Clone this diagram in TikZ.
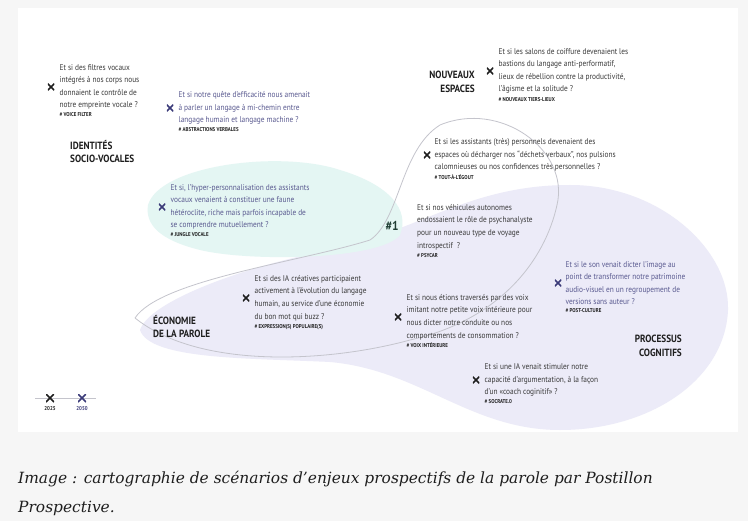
\documentclass[tikz,border=0pt]{standalone}
\usepackage{fontspec}
\setmainfont{PT Sans}
\newfontfamily\condfont{PT Sans}[FakeStretch=0.88]
\newfontfamily\capfont{DejaVu Serif}
\usepackage{xcolor}
\usetikzlibrary{positioning}

\definecolor{pagebg}{HTML}{F6F6F6}
\definecolor{ink}{HTML}{3A3A3A}
\definecolor{inkdark}{HTML}{1E1E1E}
\definecolor{vio}{HTML}{5A5A90}
\definecolor{viodark}{HTML}{3A3A78}
\definecolor{lav}{HTML}{ECEBF8}
\definecolor{mint}{HTML}{E4F6F3}
\definecolor{mintline}{HTML}{BDEBE3}
\definecolor{loopgray}{HTML}{C4C4CC}
\definecolor{teal}{HTML}{1F3D33}

\begin{document}
\begin{tikzpicture}[
  x=1bp, y=-1bp,
  q/.style={anchor=west, align=left, inner sep=0pt, text=ink,
    font=\condfont\fontsize{8.4}{12.6}\selectfont},
  qv/.style={q, text=vio},
  tagtxt/.style={anchor=north west, inner sep=0pt, text=inkdark,
    font=\condfont\bfseries\fontsize{5.6}{7}\selectfont},
  crossmk/.style={minimum size=6.5bp, inner sep=0pt,
    path picture={\draw[inkdark, line width=1.5pt]
      (path picture bounding box.south west) -- (path picture bounding box.north east)
      (path picture bounding box.north west) -- (path picture bounding box.south east);}},
  crossv/.style={minimum size=6.5bp, inner sep=0pt,
    path picture={\draw[viodark, line width=1.5pt]
      (path picture bounding box.south west) -- (path picture bounding box.north east)
      (path picture bounding box.north west) -- (path picture bounding box.south east);}},
  theme/.style={inner sep=0pt, text=inkdark,
    font=\condfont\bfseries\fontsize{10.5}{13.5}\selectfont},
  legtxt/.style={inner sep=0pt, font=\condfont\bfseries\fontsize{5.6}{7}\selectfont},
  loopline/.style={draw=loopgray, line width=0.8pt}
]
\useasboundingbox (0,0) rectangle (748,521);
\fill[pagebg] (0,0) rectangle (748,521);
\fill[white] (18,8) rectangle (738,432);

% zones
\fill[lav] (140,330) .. controls (150,300) and (250,265) .. (330,250)
  .. controls (420,230) and (470,185) .. (570,185)
  .. controls (660,185) and (730,250) .. (728,310)
  .. controls (725,380) and (650,430) .. (560,430)
  .. controls (470,430) and (420,370) .. (330,362)
  .. controls (250,358) and (150,360) .. (140,330) -- cycle;
\fill[mint] (148,205) .. controls (160,165) and (280,150) .. (340,170)
  .. controls (390,185) and (410,210) .. (400,235)
  .. controls (380,260) and (250,262) .. (200,250)
  .. controls (160,240) and (145,225) .. (148,205) -- cycle;
\draw[loopline] (135,318) .. controls (160,280) and (300,262) .. (370,240)
  .. controls (400,220) and (400,150) .. (440,125)
  .. controls (500,100) and (570,150) .. (557,205)
  .. controls (545,260) and (500,320) .. (410,340)
  .. controls (330,362) and (200,370) .. (135,318);

% themes
\node[theme, anchor=north west, align=left] (idsv) at (70,140) {IDENTITÉS\\SOCIO-VOCALES};
\node[theme, anchor=north east, align=right] (nesp) at (475,71) {NOUVEAUX\\ESPACES};
\node[theme, anchor=north west, align=left] (ecop) at (153,315) {ÉCONOMIE\\DE LA PAROLE};
\node[theme, anchor=north east, align=right] (pcog) at (682,335) {PROCESSUS\\COGNITIFS};

% 2025 / 2050 scenarios
\node[crossmk] (m1) at (51,87) {};
\node[q, right=5pt of m1] (s1) {Et si des filtres vocaux\\intégrés à nos corps nous\\donnaient le contrôle de\\notre empreinte vocale ?};
\node[below=3pt of s1.south west, tagtxt] (t1) {\# VOICE FILTER};

\node[crossv] (m2) at (170,108) {};
\node[qv, right=5pt of m2] (s2) {Et si notre quête d’efficacité nous amenait\\à parler un langage à mi-chemin entre\\langage humain et langage machine ?};
\node[below=3pt of s2.south west, tagtxt] (t2) {\# ABSTRACTIONS VERBALES};

\node[crossmk] (m3) at (490,71) {};
\node[q, right=5pt of m3] (s3) {Et si les salons de coiffure devenaient les\\bastions du langage anti-performatif,\\lieux de rébellion contre la productivité,\\l’âgisme et la solitude ?};
\node[below=3pt of s3.south west, tagtxt] (t3) {\# NOUVEAUX TIERS-LIEUX};

\node[crossmk] (m4) at (427,155) {};
\node[q, right=4pt of m4] (s4) {Et si les assistants (très) personnels devenaient des\\espaces où décharger nos “déchets verbaux”, nos pulsions\\calomnieuses ou nos confidences très personnelles ?};
\node[below=3pt of s4.south west, tagtxt] (t4) {\# TOUT-À-L’ÉGOUT};

\node[crossv] (m5) at (162,207) {};
\node[qv, right=5pt of m5] (s5) {Et si, l’hyper-personnalisation des assistants\\vocaux venaient à constituer une faune\\hétéroclite, riche mais parfois incapable de\\se comprendre mutuellement ?};
\node[below=3pt of s5.south west, tagtxt] (t5) {\# JUNGLE VOCALE};

\node[inner sep=0pt, text=teal, font=\condfont\bfseries\fontsize{13}{13}\selectfont] (n1) at (392,226) {\#1};
\node[q] (s6) at (417,227) {Et si nos véhicules autonomes\\endossaient le rôle de psychanalyste\\pour un nouveau type de voyage\\introspectif~ ?};
\node[below=3pt of s6.south west, tagtxt] (t6) {\# PSYCAR};

\node[crossmk] (m7) at (246,298) {};
\node[q, right=5pt of m7] (s7) {Et si des IA créatives participaient\\activement à l’évolution du langage\\humain, au service d’une économie\\du bon mot qui buzz ?};
\node[below=3pt of s7.south west, tagtxt] (t7) {\# EXPRESSION(S) POPULAIRE(S)};

\node[crossmk] (m8) at (398,317) {};
\node[q, right=5pt of m8] (s8) {Et si nous étions traversés par des voix\\imitant notre petite voix intérieure pour\\nous dicter notre conduite ou nos\\comportements de consommation ?};
\node[below=3pt of s8.south west, tagtxt] (t8) {\# VOIX INTÉRIEURE};

\node[crossv] (m9) at (558,283) {};
\node[qv, right=4pt of m9] (s9) {Et si le son venait dicter l’image au\\point de transformer notre patrimoine\\audio-visuel en un regroupement de\\versions sans auteur ?};
\node[below=3pt of s9.south west, tagtxt] (t9) {\# POST-CULTURE};

\node[crossmk] (m10) at (476,380) {};
\node[q, right=5pt of m10] (s10) {Et si une IA venait stimuler notre\\capacité d’argumentation, à la façon\\d’un «coach coginitif» ?};
\node[below=3pt of s10.south west, tagtxt] (t10) {\# SOCRATE.0};

% legend
\coordinate (legL) at (35,398);
\coordinate (legR) at (96,398);
\draw[loopgray, line width=0.5pt] (legL) -- (legR);
\node[crossmk, minimum size=8bp] (k25) at (50,398) {};
\node[crossv, minimum size=8bp] (k50) at (82,398) {};
\node[legtxt, text=inkdark, below=4pt of k25] (l25) {2025};
\node[legtxt, text=viodark, below=4pt of k50] (l50) {2050};

% caption
\node[anchor=north west, align=left, inner sep=0pt, text=inkdark,
  font=\capfont\itshape\fontsize{15.5}{29}\selectfont] (cap) at (18,471)
  {Image : cartographie de scénarios d’enjeux prospectifs de la parole par Postillon\\Prospective.};
\end{tikzpicture}
\end{document}
